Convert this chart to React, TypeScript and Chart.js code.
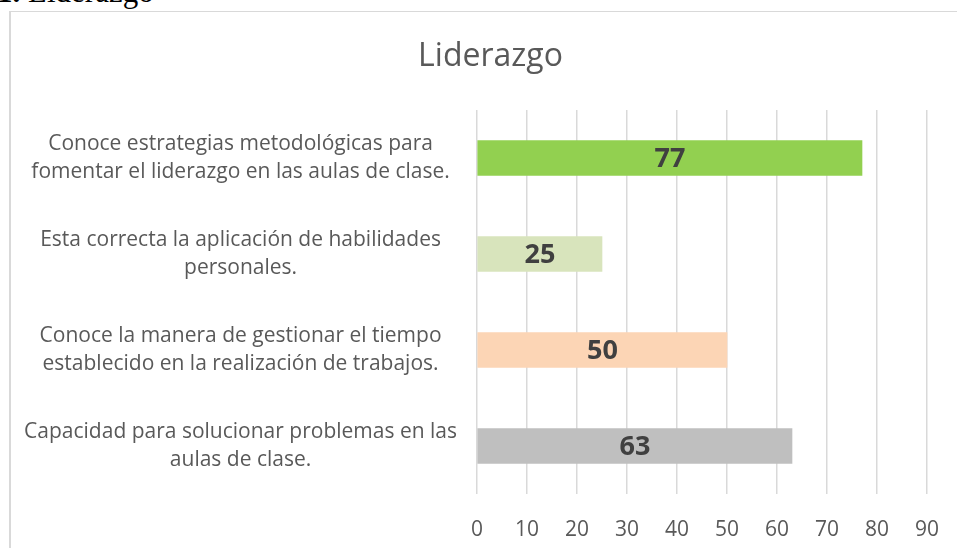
import React, { useEffect, useRef } from "react";
import { Chart, registerables } from "chart.js";

Chart.register(...registerables);

const chartTitle = "Liderazgo";
const captionBold = "1.";
const captionText = " Liderazgo";
const categories: string[][] = [
  ["Conoce estrategias metodológicas para", "fomentar el liderazgo en las aulas de clase."],
  ["Esta correcta la aplicación de habilidades", "personales."],
  ["Conoce la manera de gestionar el tiempo", "establecido en la realización de trabajos."],
  ["Capacidad para solucionar problemas en las", "aulas de clase."],
];
const values = [77, 25, 50, 63];
const barColors = ["#92D050", "#D8E4BC", "#FCD5B5", "#BFBFBF"];
const xMin = 0;
const xMax = 90;
const xStep = 10;

const FONT = "'Open Sans', 'Noto Sans', sans-serif";

const valueLabels = {
  id: "valueLabels",
  afterDatasetsDraw(chart: any) {
    const ctx = chart.ctx;
    const meta = chart.getDatasetMeta(0);
    ctx.save();
    ctx.font = `bold 27px ${FONT}`;
    ctx.fillStyle = "#404040";
    ctx.textAlign = "center";
    ctx.textBaseline = "middle";
    meta.data.forEach((bar: any, i: number) => {
      const { x, y, base } = bar.getProps(["x", "y", "base"], true);
      ctx.fillText(String(values[i]), (x + base) / 2, y + 1);
    });
    ctx.restore();
  },
};

const titlePlugin = {
  id: "centeredTitle",
  afterDraw(chart: any) {
    const ctx = chart.ctx;
    ctx.save();
    ctx.font = `32px ${FONT}`;
    ctx.fillStyle = "#595959";
    ctx.textAlign = "center";
    ctx.textBaseline = "alphabetic";
    ctx.fillText(chartTitle, chart.width / 2, 54);
    ctx.restore();
  },
};

export default function App() {
  const ref = useRef<HTMLCanvasElement | null>(null);
  useEffect(() => {
    if (!ref.current) return;
    const chart = new Chart(ref.current, {
      type: "bar",
      data: {
        labels: categories,
        datasets: [
          {
            data: values,
            backgroundColor: barColors,
            borderWidth: 0,
            barThickness: 35,
          },
        ],
      },
      plugins: [valueLabels, titlePlugin],
      options: {
        indexAxis: "y",
        animation: false,
        responsive: true,
        maintainAspectRatio: false,
        layout: { padding: { left: 0, right: 43, top: 98, bottom: 0 } },
        plugins: {
          legend: { display: false },
          tooltip: { enabled: false },
          title: { display: false },
        },
        scales: {
          x: {
            min: xMin,
            max: xMax,
            grid: { color: "#d9d9d9", lineWidth: 1.5, drawTicks: false },
            border: { display: false },
            ticks: {
              stepSize: xStep,
              color: "#595959",
              padding: 23,
              font: { family: FONT, size: 21 },
            },
            afterFit(scale: any) {
              scale.height = 54;
            },
          },
          y: {
            grid: { display: false, drawTicks: false },
            border: { display: false },
            ticks: {
              color: "#595959",
              padding: 20,
              crossAlign: "center",
              font: { family: FONT, size: 21, lineHeight: 1.33 },
            },
            afterFit(scale: any) {
              scale.width = 466;
            },
          },
        },
      },
    });
    return () => chart.destroy();
  }, []);

  return (
    <div
      style={{
        position: "absolute",
        left: 0,
        top: 0,
        width: 957,
        height: 548,
        overflow: "hidden",
        background: "#fff",
      }}
    >
      <div
        style={{
          position: "absolute",
          left: -3,
          top: -24,
          fontFamily: "'Liberation Serif', 'Times New Roman', serif",
          fontSize: 31,
          lineHeight: 1,
          whiteSpace: "pre",
          color: "#000",
        }}
      >
        <b>{captionBold}</b>
        {captionText}
      </div>
      <div
        style={{
          position: "absolute",
          left: 9,
          top: 11,
          width: 961,
          height: 537,
          borderLeft: "2px solid #d9d9d9",
          borderTop: "1px solid #d9d9d9",
          boxSizing: "border-box",
        }}
      >
        <div style={{ position: "relative", width: 959, height: 536 }}>
          <canvas ref={ref} />
        </div>
      </div>
    </div>
  );
}
